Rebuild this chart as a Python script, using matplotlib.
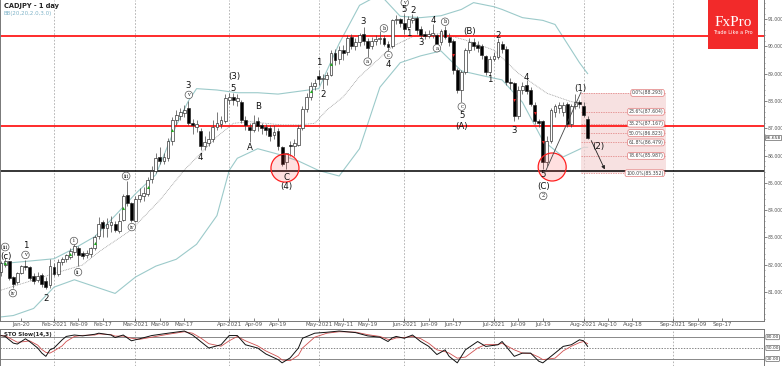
import matplotlib
matplotlib.use("Agg")
import matplotlib.pyplot as plt
from matplotlib.patches import Ellipse, Rectangle
import numpy as np
import pandas as pd

# daily OHLC, 2021-01-13 .. 2021-08-03 (business days)
opens = [
    81.75, 82.00, 82.12, 81.55, 81.35, 81.70, 81.95, 81.90, 81.57, 81.45, 81.63, 81.40, 81.25,
    81.90, 81.65, 82.10, 82.20, 82.30, 82.45, 82.60, 82.42, 82.35, 82.38, 82.60, 83.05, 83.55,
    83.35, 83.45, 83.50, 83.25, 83.65, 84.55, 84.25,
    83.60, 84.40, 84.50, 84.60, 85.15, 85.45, 85.95, 85.80, 85.90, 86.55, 87.30, 87.45, 87.55,
    87.75, 87.20, 87.05, 86.90, 86.35, 86.45, 86.60, 87.05, 87.15, 87.25,
    88.05, 88.15, 88.00, 87.95, 87.30, 87.05, 86.95, 87.25, 87.10, 87.05, 87.00, 86.75, 86.90,
    86.30, 85.75, 86.40, 86.35, 86.40, 87.00, 87.70, 88.15, 88.55,
    88.90, 88.82, 88.80, 88.95, 89.75, 89.55, 89.85, 89.80, 90.35, 90.00, 90.15, 90.45, 90.20,
    90.00, 90.20, 90.25, 90.30, 90.10, 90.00, 90.95, 91.00,
    90.85, 90.70, 90.95, 91.05, 90.65, 90.45, 90.38, 90.40, 90.40, 90.15, 90.60, 90.35, 90.20,
    89.15, 88.40, 89.05, 89.85, 90.15, 90.05, 90.00, 89.65, 89.05,
    89.55, 89.60, 90.10, 89.90, 88.70, 88.65, 87.45, 88.40, 88.60, 88.40, 87.85, 87.25, 87.25,
    85.75, 86.55, 87.60, 87.75, 87.60, 87.90, 87.15, 87.80, 87.95,
    87.80, 87.35,
]
highs = [
    82.15, 82.25, 82.15, 81.60, 81.75, 82.00, 82.18, 81.95, 81.70, 81.75, 81.70, 81.55, 82.20,
    82.05, 82.20, 82.30, 82.40, 82.60, 82.80, 82.70, 82.50, 82.55, 82.65, 83.10, 83.75, 83.65,
    83.70, 83.80, 83.60, 83.90, 84.60, 85.05, 84.30,
    84.50, 84.80, 84.85, 85.20, 85.60, 86.10, 86.30, 86.10, 86.65, 87.40, 87.65, 87.75, 87.85,
    88.00, 87.35, 87.30, 87.00, 86.70, 86.90, 87.30, 87.60, 87.45, 88.25,
    88.30, 88.30, 88.25, 88.05, 87.45, 87.20, 87.50, 87.40, 87.20, 87.15, 87.10, 87.10, 87.00,
    86.35, 86.10, 86.55, 86.60, 87.10, 87.80, 88.30, 88.70, 88.80,
    89.15, 89.00, 89.05, 89.85, 89.90, 90.00, 90.05, 90.40, 90.45, 90.30, 90.50, 90.70, 90.30,
    90.35, 90.40, 90.55, 90.40, 90.20, 91.00, 91.15, 91.05,
    91.20, 91.10, 91.20, 91.10, 90.75, 90.55, 90.60, 90.80, 90.45, 90.65, 90.75, 90.50, 90.25,
    89.20, 89.15, 89.95, 90.30, 90.30, 90.20, 90.10, 89.70, 89.65,
    89.80, 90.30, 90.20, 90.00, 88.85, 88.70, 88.55, 88.70, 88.75, 88.50, 87.95, 87.35, 87.30,
    86.70, 87.75, 87.90, 87.95, 87.95, 87.95, 87.90, 88.25, 88.05,
    87.95, 87.45,
]
lows = [
    81.60, 81.90, 81.45, 81.15, 81.30, 81.65, 81.80, 81.45, 81.30, 81.35, 81.20, 81.10, 81.15,
    81.60, 81.60, 82.00, 82.10, 82.20, 82.35, 81.95, 82.20, 82.25, 82.30, 82.55, 82.95, 83.00,
    83.00, 83.20, 83.20, 83.15, 83.60, 84.15, 83.55,
    83.55, 84.30, 84.35, 84.50, 85.00, 85.35, 85.70, 85.70, 85.80, 86.40, 87.10, 87.30, 87.40,
    87.10, 86.80, 86.85, 86.20, 86.20, 86.35, 86.50, 86.95, 87.00, 87.20,
    87.90, 87.85, 87.80, 87.20, 86.95, 86.50, 86.85, 86.90, 86.80, 86.75, 86.55, 86.60, 86.20,
    85.60, 85.50, 86.00, 86.00, 86.35, 86.95, 87.60, 88.05, 88.40,
    88.60, 88.45, 88.60, 88.90, 89.30, 89.35, 89.50, 89.70, 89.90, 89.85, 90.00, 90.05, 89.60,
    89.90, 90.05, 90.10, 90.00, 89.80, 89.95, 90.80, 90.70,
    90.45, 90.60, 90.85, 90.45, 90.30, 90.25, 90.30, 90.30, 89.95, 90.05, 90.25, 90.00, 89.00,
    88.30, 87.97, 89.00, 89.75, 89.85, 89.80, 89.55, 88.95, 88.95,
    89.45, 89.55, 89.75, 88.60, 88.45, 87.25, 87.35, 88.25, 88.25, 87.80, 87.15, 87.05, 85.50,
    85.60, 86.45, 87.40, 87.55, 87.45, 87.05, 87.05, 87.70, 87.75,
    87.40, 86.60,
]
closes = [
    82.05, 82.12, 81.52, 81.30, 81.70, 81.95, 81.90, 81.52, 81.42, 81.60, 81.30, 81.20, 81.95,
    81.65, 82.10, 82.20, 82.35, 82.50, 82.70, 82.35, 82.33, 82.42, 82.60, 83.00, 83.50, 83.35,
    83.50, 83.55, 83.28, 83.60, 84.50, 84.25, 83.65,
    84.40, 84.55, 84.62, 85.10, 85.45, 85.90, 85.80, 85.95, 86.55, 87.30, 87.50, 87.60, 87.68,
    87.20, 87.10, 87.15, 86.35, 86.50, 86.60, 87.05, 87.20, 87.30, 88.10,
    88.15, 88.05, 88.10, 87.30, 87.10, 86.95, 87.20, 87.08, 87.02, 86.95, 86.70, 86.85, 86.35,
    85.70, 86.10, 86.35, 86.45, 87.00, 87.70, 88.15, 88.55, 88.65,
    88.82, 88.85, 88.95, 89.75, 89.50, 89.85, 89.75, 90.30, 90.00, 90.15, 90.40, 90.20, 89.95,
    90.20, 90.25, 90.30, 90.10, 89.98, 90.95, 91.00, 90.85,
    90.65, 91.00, 91.05, 90.60, 90.40, 90.38, 90.45, 90.48, 90.10, 90.55, 90.35, 90.15, 89.15,
    88.40, 89.05, 89.85, 90.15, 90.00, 89.95, 89.70, 89.05, 89.55,
    89.65, 90.15, 89.90, 88.70, 88.65, 87.45, 88.40, 88.55, 88.35, 87.90, 87.25, 87.20, 85.75,
    86.55, 87.65, 87.80, 87.85, 87.85, 87.15, 87.80, 87.95, 87.90,
    87.50, 86.66,
]

# Bollinger bands (bar number, price)
bb_up_x = [0, 3, 8, 13, 18, 23, 28, 33, 38, 43, 46, 48, 53, 58, 63, 68, 73, 78, 83, 88, 93,
           98, 103, 108, 113, 116, 121, 123, 128, 133, 136, 139, 142, 144]
bb_up = [82.03, 82.08, 82.15, 82.22, 82.60, 83.03, 83.80, 84.60, 85.30, 87.10, 88.00, 88.45,
         88.40, 88.30, 88.30, 88.25, 88.35, 88.45, 90.10, 91.50, 91.90, 91.10, 91.05, 91.12,
         91.35, 91.60, 91.45, 91.35, 91.05, 90.95, 90.80, 90.10, 89.40, 89.00]
bb_lo_x = [0, 3, 8, 13, 18, 23, 28, 33, 38, 43, 48, 53, 56, 58, 63, 68, 73, 78, 83, 88, 93,
           98, 103, 108, 113, 118, 123, 128, 133, 138, 143, 144]
bb_lo = [80.09, 80.14, 80.40, 81.18, 81.45, 81.20, 80.95, 81.55, 81.95, 82.20, 82.75, 83.80,
         85.45, 85.90, 86.25, 86.05, 85.80, 85.45, 85.25, 86.25, 88.50, 89.40, 89.65, 89.83,
         89.10, 88.93, 88.77, 87.95, 86.55, 85.95, 86.30, 86.30]
bb_mid_x = [0, 8, 13, 20, 24, 32, 39, 45, 49, 53, 57, 61, 69, 73, 77, 80, 84, 88, 92, 96,
            101, 108, 114, 121, 127, 134, 140, 144]
bb_mid = [81.07, 81.44, 81.68, 81.99, 82.47, 83.28, 84.37, 85.47, 86.08, 86.69, 87.18, 87.24,
          87.12, 87.12, 87.18, 87.67, 88.15, 88.89, 89.44, 89.99, 90.35, 90.47, 90.23, 89.86,
          89.01, 88.28, 87.97, 87.91]

# Stochastic slow (14,3)
sto_x = [0, 1, 3, 4, 6, 7, 9, 10, 11, 12, 13, 15, 16, 18, 20, 23, 24, 27, 28, 30, 32, 34, 37,
         41, 45, 47, 49, 51, 54, 56, 58, 60, 63, 65, 68, 69, 71, 73, 74, 77, 80, 83, 87, 90, 93,
         95, 96, 97, 99, 101, 103, 105, 107, 109, 110, 112, 114, 117, 119, 122, 123, 126, 128,
         130, 132, 133, 136, 138, 140, 142, 143, 144]
sto_k = [84.5, 82, 63.6, 61, 75.5, 68, 50, 36, 27, 45, 50, 72.7, 82, 86, 83.6, 88, 91, 86, 79,
         86, 70, 75.5, 84.5, 91, 97, 86, 68, 50, 59, 84.5, 84.5, 59, 50, 33.6, 18, 9, 23, 50,
         77, 91, 93.6, 97, 92.7, 83.6, 80, 68, 78, 82, 77, 86, 68, 54.5, 32, 45, 27, 9, 45,
         68, 54.5, 59, 68, 27, 36, 36, 13.6, 9, 36, 54.5, 59, 72.7, 70, 54.5]
sto_d = [84, 84, 72, 66, 68, 70, 58, 46, 38, 36, 42, 56, 68, 82, 85, 86, 89, 87, 83, 83, 77,
         74, 80, 88, 95, 91, 78, 62, 55, 70, 82, 70, 56, 42, 26, 17, 15, 30, 50, 80, 91, 95,
         94, 87, 82, 74, 74, 78, 79, 82, 76, 63, 45, 40, 36, 22, 25, 50, 60, 60, 63, 45, 36,
         35, 25, 18, 22, 42, 55, 65, 68, 62]

fib_levels = [88.293, 87.604, 87.167, 86.823, 86.479, 85.987, 85.352]
fib_labels = ["0.0%(88.293)", "23.6%(87.604)", "38.2%(87.167)", "50.0%(86.823)",
              "61.8%(86.479)", "78.6%(85.987)", "100.0%(85.352)"]

red_levels = [90.38, 87.08]
black_level = 85.42
last_price = 86.658

green_marks = ["2021-01-14", "2021-02-05", "2021-02-15", "2021-02-24", "2021-03-04",
               "2021-03-12", "2021-04-29", "2021-05-06"]
red_marks = ["2021-06-17", "2021-07-08", "2021-07-15", "2021-07-19"]

tick_dates = ["2021-01-20", "2021-02-01", "2021-02-09", "2021-02-17", "2021-03-01", "2021-03-09",
              "2021-03-17", "2021-04-01", "2021-04-09", "2021-04-19", "2021-05-03", "2021-05-11",
              "2021-05-19", "2021-06-01", "2021-06-09", "2021-06-17", "2021-07-01", "2021-07-09",
              "2021-07-19", "2021-08-02", "2021-08-10", "2021-08-18", "2021-09-01", "2021-09-09",
              "2021-09-17"]
tick_labels = ["Jan-20", "Feb-2021", "Feb-09", "Feb-17", "Mar-2021", "Mar-09", "Mar-17",
               "Apr-2021", "Apr-09", "Apr-19", "May-2021", "May-11", "May-19", "Jun-2021",
               "Jun-09", "Jun-17", "Jul-2021", "Jul-09", "Jul-19", "Aug-2021", "Aug-10",
               "Aug-18", "Sep-2021", "Sep-09", "Sep-17"]

# wave labels: (text, bar, price, circled)
waves = [
    ("iii", 1.0, 82.65, True), ("(c)", 1.3, 82.32, False), ("iv", 2.9, 80.96, True),
    ("1", 6.0, 82.72, False), ("v", 6.0, 82.36, True), ("2", 11.0, 80.78, False),
    ("i", 17.9, 82.87, True), ("ii", 18.9, 81.73, True), ("iii", 30.7, 85.25, True),
    ("iv", 32.1, 83.38, True), ("3", 46.0, 88.58, False), ("v", 46.1, 88.22, True),
    ("4", 49.0, 85.91, False), ("(3)", 57.2, 88.88, False), ("5", 57.0, 88.47, False),
    ("B", 63.0, 87.78, False), ("A", 61.0, 86.31, False), ("C", 70.0, 85.21, False),
    ("(4)", 70.1, 84.85, False), ("1", 78.1, 89.39, False), ("2", 79.1, 88.22, False),
    ("3", 88.9, 90.90, False), ("a", 90.0, 89.44, True), ("b", 94.0, 90.66, True),
    ("c", 95.1, 89.68, True), ("4", 95.1, 89.34, False), ("v", 99.1, 91.60, True),
    ("5", 99.0, 91.33, False), ("2", 101.1, 91.30, False), ("1", 100.2, 90.48, False),
    ("3", 103.1, 90.13, False), ("4", 106.0, 90.96, False), ("b", 109.0, 90.90, True),
    ("a", 107.0, 89.93, True), ("(B)", 115.1, 90.56, False), ("c", 113.1, 87.79, True),
    ("5", 113.1, 87.45, False), ("(A)", 113.1, 87.08, False), ("2", 122.1, 90.38, False),
    ("1", 120.0, 88.77, False), ("4", 129.0, 88.86, False), ("3", 126.0, 86.93, False),
    ("5", 133.0, 85.31, False), ("(C)", 133.1, 84.86, False), ("2", 133.1, 84.52, True),
    ("(1)", 142.1, 88.46, False), ("(2)", 146.7, 86.32, False),
]
circles = [(69.7, 85.54), (135.3, 85.58)]

# ---------------------------------------------------------------
cal = pd.bdate_range("2021-01-13", "2021-09-30")
pos = {d.strftime("%Y-%m-%d"): k for k, d in enumerate(cal)}
n = len(closes)
xs = np.arange(n)

W, H = 782, 366
fig = plt.figure(figsize=(W / 100, H / 100), dpi=100)
ax = fig.add_axes([0, 1 - 321 / H, 764 / W, 321 / H])
ax2 = fig.add_axes([0, 0.5 / H, 764 / W, 36.5 / H])

x0, x1 = -0.258, 187.3
ax.set_xlim(x0, x1)
ax.set_ylim(79.94, 91.696)
ax2.set_xlim(x0, x1)
ax2.set_ylim(1.7, 102.6)

grid_c = "#aaaaaa"
for a in (ax, ax2):
    for d, lab in zip(tick_dates, tick_labels):
        if lab.endswith("2021"):
            a.axvline(pos[d], color=grid_c, lw=0.6, ls=(0, (2, 2)), zorder=0)

# bands
band_c = "#9ccaca"
ax.plot(bb_up_x, bb_up, color=band_c, lw=0.8, zorder=1)
ax.plot(bb_lo_x, bb_lo, color=band_c, lw=0.8, zorder=1)
ax.plot(bb_mid_x, bb_mid, color="#999999", lw=0.6, ls=(0, (1, 1)), zorder=1)

# level lines
for lv in red_levels:
    ax.axhline(lv, color="#ff1a1a", lw=1.3, zorder=2)
ax.axhline(black_level, color="black", lw=1.1, zorder=2)

# fibonacci box
fx0, fx1 = 142.4, 163.3
ax.add_patch(Rectangle((fx0, fib_levels[-1]), fx1 - fx0, fib_levels[0] - fib_levels[-1],
                       facecolor="#f5d5d5", edgecolor="none", alpha=0.7, zorder=1))
for lv, lab in zip(fib_levels, fib_labels):
    ax.plot([fx0, fx1], [lv, lv], color="#e07a7a", lw=0.5, ls=(0, (2, 1.5)), zorder=2)
    ax.text(162.6, lv, lab, fontsize=3.3, ha="right", va="center", color="#444444", zorder=6,
            bbox=dict(boxstyle="round,pad=0.2,rounding_size=0.4", fc="white", ec="#e07a7a", lw=0.5))

# candles
o, h, l, c = map(np.array, (opens, highs, lows, closes))
ax.vlines(xs, l, h, color="#444444", lw=0.5, zorder=3)
up = c >= o
body = np.maximum(np.abs(c - o), 0.025)
ax.bar(xs, body, bottom=np.minimum(o, c), width=0.7, color=np.where(up, "white", "black"),
       edgecolor="#222222", linewidth=0.45, zorder=4)

for d in green_marks:
    k = pos[d]
    ax.plot(k, (o[k] + c[k]) / 2, marker="^", ms=2.2, color="#1faa1f", mec="none", zorder=5)
for d in red_marks:
    k = pos[d]
    ax.plot(k, (o[k] + c[k]) / 2, marker="v", ms=2.2, color="#e02020", mec="none", zorder=5)

# circles
for cx, cy in circles:
    ax.add_patch(Ellipse((cx, cy), 28 / 4.073, 28 / 27.3, facecolor=(1, 0.2, 0.2, 0.15),
                         edgecolor="#ff2020", lw=0.9, zorder=5))

# wave lines and arrow
ax.plot([133.6, 142.4], [85.40, 88.33], color="#444444", lw=0.6, zorder=5)
ax.annotate("", xy=(148.5, 85.40), xytext=(144.6, 86.64),
            arrowprops=dict(arrowstyle="-|>", color="#222222", lw=0.6, mutation_scale=5), zorder=6)

# wave labels
for txt, bx, py, circ in waves:
    if circ:
        ax.text(bx, py, txt, fontsize=3.6, ha="center", va="center", color="#222222", zorder=7,
                family="DejaVu Serif",
                bbox=dict(boxstyle="circle,pad=0.25", fc="white", ec="#555555", lw=0.5))
    else:
        ax.text(bx, py, txt, fontsize=6.2, ha="center", va="center", color="#111111", zorder=7)

# titles
ax.text(4 / 764, 1 - 6 / 321, "CADJPY - 1 day", transform=ax.transAxes, fontsize=4.8,
        fontweight="bold", color="#222222", va="center")
ax.text(4 / 764, 1 - 13 / 321, "BB(20,20,2.0,3.0)", transform=ax.transAxes, fontsize=4,
        color="#7fb3c8", va="center")

# FxPro logo
logo = fig.add_axes([708 / W, 1 - 49 / H, 50 / W, 49 / H])
logo.set_facecolor("#f22a2a")
logo.set_xticks([])
logo.set_yticks([])
for s in logo.spines.values():
    s.set_visible(False)
logo.text(0.5, 0.55, "FxPro", fontsize=11, color="white", ha="center", va="center",
          family="Liberation Serif")
logo.text(0.5, 0.33, "Trade Like a Pro", fontsize=3.6, color="white", ha="center", va="center")

# axes styling
ax.yaxis.tick_right()
ax.set_yticks(np.arange(81, 92))
ax.set_yticklabels([f"{v:.3f}" for v in np.arange(81, 92)])
ax.set_yticks(np.arange(80, 91.7, 0.2), minor=True)
ax.tick_params(axis="y", which="major", labelsize=3.3, length=1.8, width=0.5, pad=0.6,
               colors="#555555", direction="out")
ax.tick_params(axis="y", which="minor", length=1.0, width=0.4, color="#555555")
ax.set_xticks([pos[d] for d in tick_dates])
ax.set_xticklabels(tick_labels)
ax.tick_params(axis="x", labelsize=4.0, length=2, width=0.5, pad=1, colors="#555555",
               direction="in")
ax.spines["top"].set_visible(False)
for s in ("left", "right", "bottom"):
    ax.spines[s].set_color("#777777")
    ax.spines[s].set_linewidth(0.7)

ax.text(x1 + 0.4, last_price, "86.658", fontsize=3.2, ha="left", va="center", color="#333333",
        clip_on=False, bbox=dict(boxstyle="square,pad=0.1", fc="white", ec="#666666", lw=0.5))

# stochastic panel
ax2.plot(sto_x, sto_d, color="#d05050", lw=0.6, zorder=3)
ax2.plot(sto_x, sto_k, color="#111111", lw=0.7, zorder=4)
ax2.axhline(80, color="#888888", lw=0.7)
ax2.axhline(20, color="#888888", lw=0.7)
ax2.axhline(50, color="#555555", lw=0.5, ls=(0, (2, 2)))
ax2.set_xticks([])
ax2.set_yticks([])
for s in ax2.spines.values():
    s.set_color("#777777")
    s.set_linewidth(0.7)
ax2.text(4 / 764, 80, "STO Slow(14,3)", transform=ax2.get_yaxis_transform(), fontsize=4.0,
         fontweight="bold", color="#222222", va="bottom")
for v, lab in ((80, "80.00"), (50, "50.00"), (20, "20.00")):
    ax2.text(x1 + 0.6, v, lab, fontsize=3.2, ha="left", va="center", color="#333333",
             clip_on=False, bbox=dict(boxstyle="round,pad=0.12", fc="white", ec="#666666", lw=0.5))

fig.savefig("out.png", dpi=100)
